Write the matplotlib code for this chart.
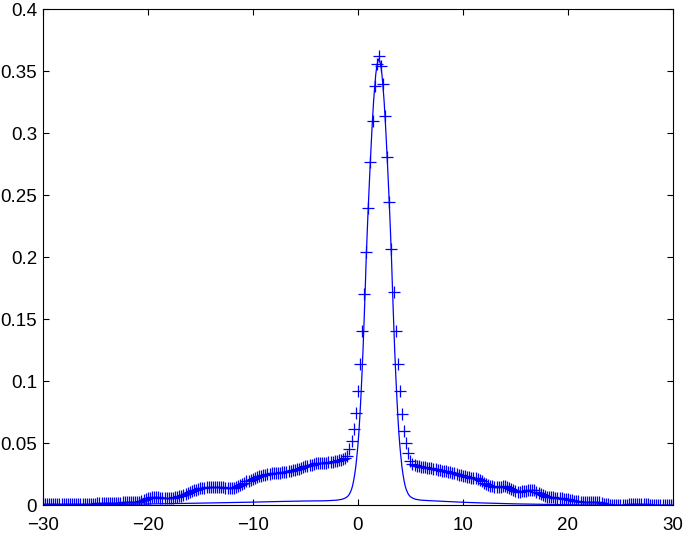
import numpy as np
import matplotlib
matplotlib.use('Agg')
import matplotlib.pyplot as plt

plt.rcParams['font.family'] = ['Liberation Sans', 'DejaVu Sans']

# marker series: samples every 0.2 from -30 to 30
x_pts = np.linspace(-30, 30, 301)
y_pts = [
    0.0008, 0.0008, 0.0009, 0.0008, 0.0009, 0.0009, 0.0010, 0.0009, 0.0010, 0.0010,  # -30
    0.0010, 0.0011, 0.0010, 0.0011, 0.0012, 0.0011, 0.0012, 0.0012, 0.0013, 0.0012,  # -28
    0.0013, 0.0013, 0.0014, 0.0014, 0.0015, 0.0015, 0.0016, 0.0016, 0.0017, 0.0017,  # -26
    0.0018, 0.0019, 0.0019, 0.0020, 0.0021, 0.0022, 0.0023, 0.0024, 0.0025, 0.0025,  # -24
    0.0026, 0.0027, 0.0028, 0.0028, 0.0029, 0.0030, 0.0032, 0.0036, 0.0045, 0.0052,  # -22
    0.0058, 0.0063, 0.0067, 0.0069, 0.0068, 0.0066, 0.0064, 0.0062, 0.0060, 0.0060,  # -20
    0.0060, 0.0061, 0.0063, 0.0066, 0.0070, 0.0076, 0.0080, 0.0086, 0.0092, 0.0099,  # -18
    0.0112, 0.0117, 0.0122, 0.0127, 0.0132, 0.0138, 0.0141, 0.0144, 0.0147, 0.0149,  # -16
    0.0150, 0.0151, 0.0151, 0.0150, 0.0149, 0.0148, 0.0146, 0.0143, 0.0141, 0.0140,  # -14
    0.0140, 0.0143, 0.0148, 0.0155, 0.0163, 0.0175, 0.0185, 0.0194, 0.0200, 0.0208,  # -12
    0.0215, 0.0222, 0.0229, 0.0235, 0.0240, 0.0245, 0.0249, 0.0252, 0.0255, 0.0258,  # -10
    0.0260, 0.0262, 0.0264, 0.0265, 0.0267, 0.0270, 0.0273, 0.0276, 0.0280, 0.0285,  # -8
    0.0290, 0.0294, 0.0298, 0.0300, 0.0308, 0.0315, 0.0320, 0.0326, 0.0330, 0.0335,  # -6
    0.0340, 0.0341, 0.0342, 0.0342, 0.0343, 0.0345, 0.0347, 0.0350, 0.0352, 0.0356,  # -4
    0.0360, 0.0365, 0.0370, 0.0375, 0.0380, 0.0400, 0.0454, 0.0518, 0.0620, 0.0749,  # -2
    0.0923, 0.1143, 0.1403, 0.1706, 0.2046, 0.2400, 0.2770, 0.3100, 0.3380, 0.3560,  # 0
    0.3620, 0.3540, 0.3400, 0.3140, 0.2810, 0.2450, 0.2070, 0.1720, 0.1405, 0.1140,  # 2
    0.0920, 0.0740, 0.0600, 0.0500, 0.0420, 0.0360, 0.0335, 0.0325, 0.0318, 0.0315,  # 4
    0.0312, 0.0310, 0.0308, 0.0305, 0.0302, 0.0300, 0.0296, 0.0292, 0.0288, 0.0285,  # 6
    0.0282, 0.0279, 0.0276, 0.0273, 0.0270, 0.0265, 0.0260, 0.0254, 0.0248, 0.0243,  # 8
    0.0238, 0.0235, 0.0232, 0.0229, 0.0225, 0.0222, 0.0218, 0.0212, 0.0204, 0.0195,  # 10
    0.0185, 0.0177, 0.0169, 0.0161, 0.0155, 0.0150, 0.0148, 0.0150, 0.0153, 0.0156,  # 12
    0.0155, 0.0150, 0.0140, 0.0130, 0.0122, 0.0115, 0.0112, 0.0111, 0.0113, 0.0117,  # 14
    0.0120, 0.0124, 0.0127, 0.0127, 0.0122, 0.0110, 0.0100, 0.0092, 0.0084, 0.0077,  # 16
    0.0072, 0.0069, 0.0066, 0.0065, 0.0063, 0.0062, 0.0060, 0.0057, 0.0055, 0.0052,  # 18
    0.0050, 0.0047, 0.0043, 0.0040, 0.0037, 0.0033, 0.0032, 0.0031, 0.0031, 0.0031,  # 20
    0.0031, 0.0030, 0.0030, 0.0030, 0.0029, 0.0025, 0.0020, 0.0015, 0.0012, 0.0009,  # 22
    0.0007, 0.0006, 0.0006, 0.0005, 0.0005, 0.0005, 0.0006, 0.0006, 0.0007, 0.0008,  # 24
    0.0008, 0.0009, 0.0010, 0.0010, 0.0011, 0.0011, 0.0010, 0.0009, 0.0008, 0.0007,  # 26
    0.0007, 0.0006, 0.0006, 0.0005, 0.0005, 0.0004, 0.0004, 0.0004, 0.0003, 0.0003,  # 28
    0.0003,                                                                          # 30
]

line_pts = [
    (-30, 0.0001), (-25, 0.0006), (-20, 0.0012), (-15, 0.0019), (-10, 0.0027),
    (-7, 0.0033), (-5, 0.0036), (-3, 0.0038), (-2, 0.0043), (-1.5, 0.0050),
    (-1.2, 0.0060), (-1.0, 0.0071), (-0.9, 0.0080), (-0.8, 0.0092), (-0.7, 0.011),
    (-0.6, 0.013), (-0.5, 0.016), (-0.4, 0.020), (-0.3, 0.025), (-0.2, 0.031),
    (-0.1, 0.039), (0.0, 0.048), (0.1, 0.059), (0.2, 0.073), (0.3, 0.089),
    (0.4, 0.107), (0.5, 0.127), (0.6, 0.150), (0.7, 0.174), (0.8, 0.200),
    (0.9, 0.222), (1.0, 0.242), (1.1, 0.261), (1.2, 0.279), (1.3, 0.296),
    (1.4, 0.312), (1.5, 0.326), (1.6, 0.337), (1.7, 0.347), (1.8, 0.354),
    (1.9, 0.358), (2.0, 0.360), (2.1, 0.358), (2.2, 0.354), (2.3, 0.347),
    (2.4, 0.337), (2.5, 0.326), (2.6, 0.312), (2.7, 0.296), (2.8, 0.279),
    (2.9, 0.261), (3.0, 0.242), (3.1, 0.222), (3.2, 0.200), (3.3, 0.174),
    (3.4, 0.150), (3.5, 0.127), (3.6, 0.107), (3.7, 0.089), (3.8, 0.073),
    (3.9, 0.059), (4.0, 0.048), (4.1, 0.039), (4.2, 0.031), (4.3, 0.025),
    (4.4, 0.020), (4.5, 0.016), (4.6, 0.013), (4.7, 0.011), (4.8, 0.0092),
    (4.9, 0.0080), (5.0, 0.0071), (5.2, 0.0060), (5.5, 0.0050), (6.0, 0.0043),
    (7, 0.0038), (8, 0.0034), (10, 0.0026), (12, 0.0020), (15, 0.0013),
    (20, 0.0006), (25, 0.0002), (30, 0.0001),
]
x_line = [p[0] for p in line_pts]
y_line = [p[1] for p in line_pts]

xticks = [-30, -20, -10, 0, 10, 20, 30]
yticks = [0, 0.05, 0.1, 0.15, 0.2, 0.25, 0.3, 0.35, 0.4]
ytick_labels = ['0', '0.05', '0.1', '0.15', '0.2', '0.25', '0.3', '0.35', '0.4']

fig = plt.figure(figsize=(6.85, 5.34), dpi=100)
ax = fig.add_axes([0.0623, 0.0534, 0.9202, 0.9292])

ax.plot(x_line, y_line, color='#0000ff', lw=0.9)
ax.plot(x_pts, y_pts, '+', color='#0000ff', ms=9, mew=0.9)

ax.set_xlim(-30, 30)
ax.set_ylim(0, 0.4)
ax.set_xticks(xticks)
ax.set_yticks(yticks)
ax.set_yticklabels(ytick_labels)
ax.tick_params(direction='in', top=True, right=True, length=4, width=0.8,
               labelsize=13.5)
ax.tick_params(axis='x', pad=8)
ax.tick_params(axis='y', pad=4)
for s in ax.spines.values():
    s.set_linewidth(0.8)

fig.savefig('out.png', dpi=100)
